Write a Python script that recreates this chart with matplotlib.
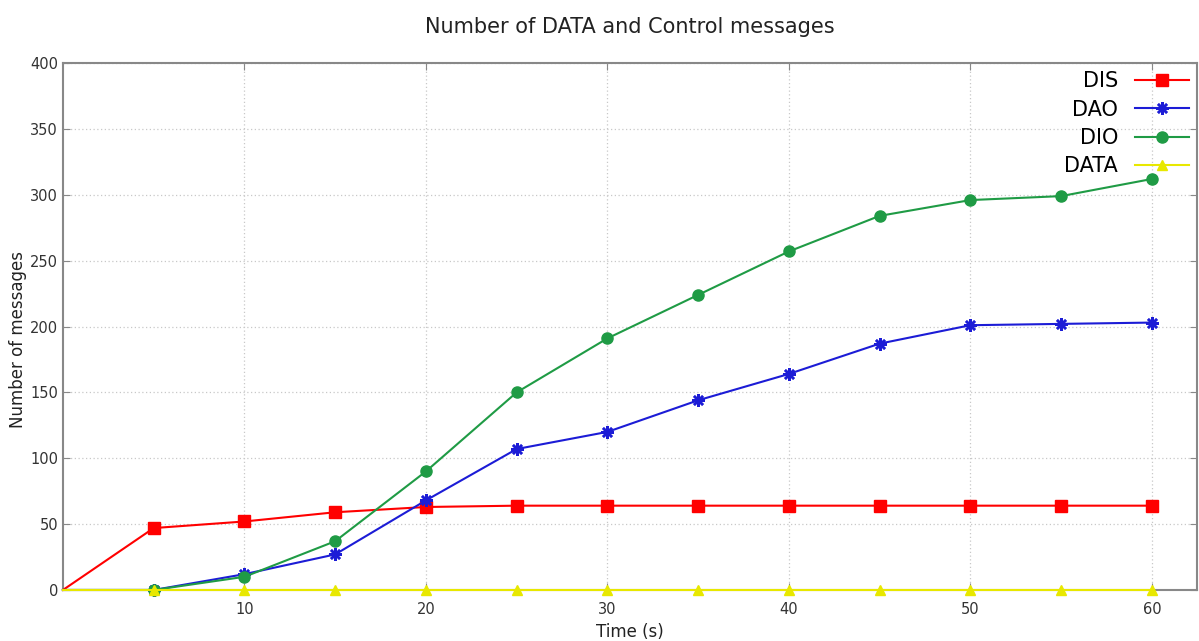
import numpy as np
import matplotlib.pyplot as plt

time = [0, 5, 10, 15, 20, 25, 30, 35, 40, 45, 50, 55, 60]
dis = [0, 47, 52, 59, 63, 64, 64, 64, 64, 64, 64, 64, 64]
dao = [0, 0, 12, 27, 68, 107, 120, 144, 164, 187, 201, 202, 203]
dio = [0, 0, 10, 37, 90, 150, 191, 224, 257, 284, 296, 299, 312]
data = [0, 0, 0, 0, 0, 0, 0, 0, 0, 0, 0, 0, 0]

plt.rcParams['font.family'] = ['DejaVu Sans']

fig = plt.figure(figsize=(11.99, 6.41), dpi=100)
ax = fig.add_axes([0.0525, 0.0796, 0.946, 0.822])

mk = slice(1, None)
kw = dict(lw=1.5, markevery=mk, clip_on=False, zorder=3)
ax.plot(time, dis, color='#ff0000', marker='s', ms=8, label='DIS', **kw)
ax.plot(time, dao, color='#1c1cd6', marker=(8, 2, 0), ms=9, mew=1.8, label='DAO', **kw)
ax.plot(time, dio, color='#1f9b45', marker='o', ms=8, label='DIO', **kw)
ax.plot(time, data, color='#e8e800', marker='^', ms=7, label='DATA', **kw)

ax.set_xlim(0, 62.5)
ax.set_ylim(0, 400)
ax.set_xticks([10, 20, 30, 40, 50, 60])
ax.set_yticks(np.arange(0, 401, 50))
ax.grid(True, color='#c8c8c8', linestyle=(0, (1, 2)), lw=0.9)
ax.tick_params(direction='in', length=5, colors='#888888', labelcolor='#333333',
               labelsize=10.5, right=True, top=True)
ax.tick_params(axis='x', pad=9)
for s in ax.spines.values():
    s.set_color('#888888')
    s.set_linewidth(1.5)
    s.set_zorder(2)

ax.set_title('Number of DATA and Control messages', fontsize=15, pad=22, color='#222222')
ax.set_xlabel('Time (s)', fontsize=12, labelpad=4, color='#222222')
fig.text(18 / 1199, 0.47, 'Number of messages', rotation=90, fontsize=12,
         color='#222222', ha='center', va='center')

leg = ax.legend(loc='upper right', frameon=False, markerfirst=False, fontsize=15,
                handlelength=2.6, labelspacing=0.4, borderaxespad=0.0)
for t in leg.get_texts():
    t.set_ha('right')

fig.savefig('out.png', dpi=100)
